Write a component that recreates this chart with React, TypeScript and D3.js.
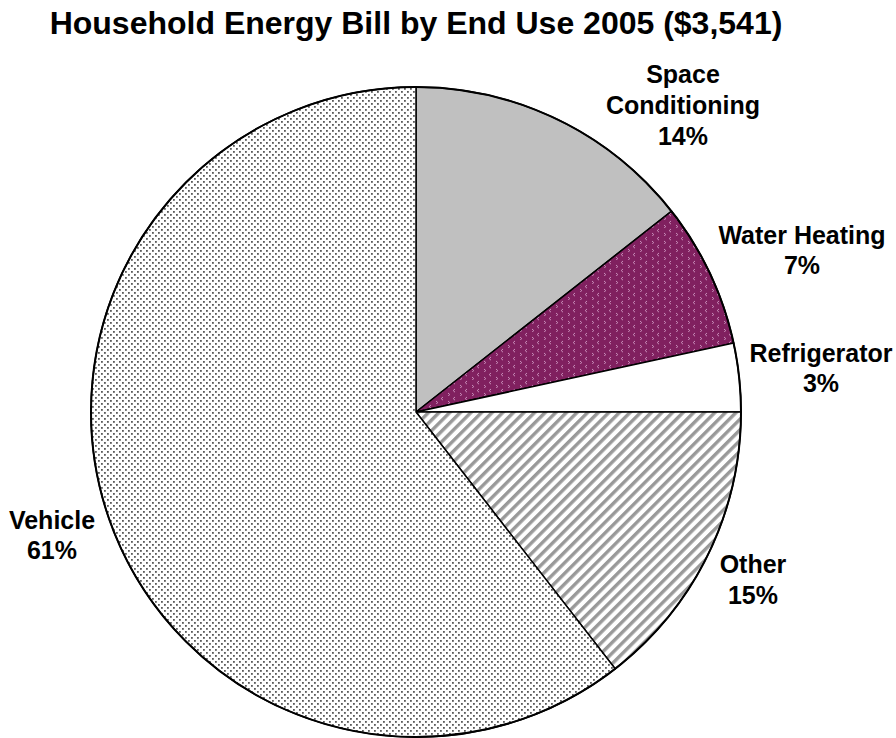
import React from "react";
import * as d3 from "d3";

// End-use shares of the 2005 household energy bill (percent)
const categories = ["Space Conditioning", "Water Heating", "Refrigerator", "Other", "Vehicle"];
const shares = [14.4, 7.2, 3.4, 14.5, 60.5];
const labelLines = [["Space", "Conditioning"], ["Water Heating"], ["Refrigerator"], ["Other"], ["Vehicle"]];
const title = "Household Energy Bill by End Use 2005 ($3,541)";

const W = 896;
const H = 738;
const cx = 416;
const cy = 412;
const R = 325;

const fills = ["#c0c0c0", "url(#chevrons)", "#ffffff", "url(#stripes)", "url(#dots)"];
// label anchor (centre of first line baseline)
const labelPos: [number, number][] = [
  [683, 83],
  [802, 244],
  [821, 362],
  [753, 573],
  [52, 529],
];
const lineGap: number[] = [31, 30, 30, 31, 30];

export default function App() {
  const pie = d3
    .pie<number>()
    .sort(null)
    .value((d) => d)
    .startAngle(0)
    .endAngle(2 * Math.PI);
  const arcs = pie(shares);
  const arc = d3.arc<d3.PieArcDatum<number>>().innerRadius(0).outerRadius(R);

  return (
    <svg
      width={W}
      height={H}
      style={{ position: "absolute", left: 0, top: 0, background: "#fff" }}
      fontFamily="'Liberation Sans', Arial, sans-serif"
    >
      <defs>
        <pattern id="dots" width="6" height="6" patternUnits="userSpaceOnUse">
          <rect width="6" height="6" fill="#fff" />
          <rect x="0" y="0" width="1.8" height="1.8" fill="#5a5a5a" />
          <rect x="3" y="3" width="1.8" height="1.8" fill="#5a5a5a" />
        </pattern>
        <pattern
          id="stripes"
          width="7.5"
          height="7.5"
          patternUnits="userSpaceOnUse"
          patternTransform="rotate(45)"
        >
          <rect width="7.5" height="7.5" fill="#fff" />
          <rect x="0" y="0" width="3.4" height="7.5" fill="#999" />
        </pattern>
        <pattern id="chevrons" width="12" height="8" patternUnits="userSpaceOnUse">
          <rect width="12" height="8" fill="#80205f" />
          <path d="M3 1 L1.2 2.6 L3 4.2" stroke="#c98fbb" strokeWidth="1" fill="none" />
          <path d="M8 5 L9.8 6.6 L8 8.2" stroke="#c98fbb" strokeWidth="1" fill="none" />
        </pattern>
      </defs>

      <text x={416} y={34} textAnchor="middle" fontSize={32} fontWeight="bold" fill="#000">
        {title}
      </text>

      <g transform={`translate(${cx},${cy})`}>
        {arcs.map((a, i) => (
          <path key={categories[i]} d={arc(a) ?? ""} fill={fills[i]} stroke="#000" strokeWidth={1.5} />
        ))}
        <circle r={R} fill="none" stroke="#000" strokeWidth={2} />
      </g>

      {arcs.map((a, i) => {
        const [lx, ly] = labelPos[i];
        const lines = [...labelLines[i], `${Math.round(shares[i])}%`];
        return (
          <text key={categories[i]} textAnchor="middle" fontSize={25} fontWeight="bold" fill="#000">
            {lines.map((t, j) => (
              <tspan key={j} x={lx} y={ly + j * lineGap[i]}>
                {t}
              </tspan>
            ))}
          </text>
        );
      })}
    </svg>
  );
}
